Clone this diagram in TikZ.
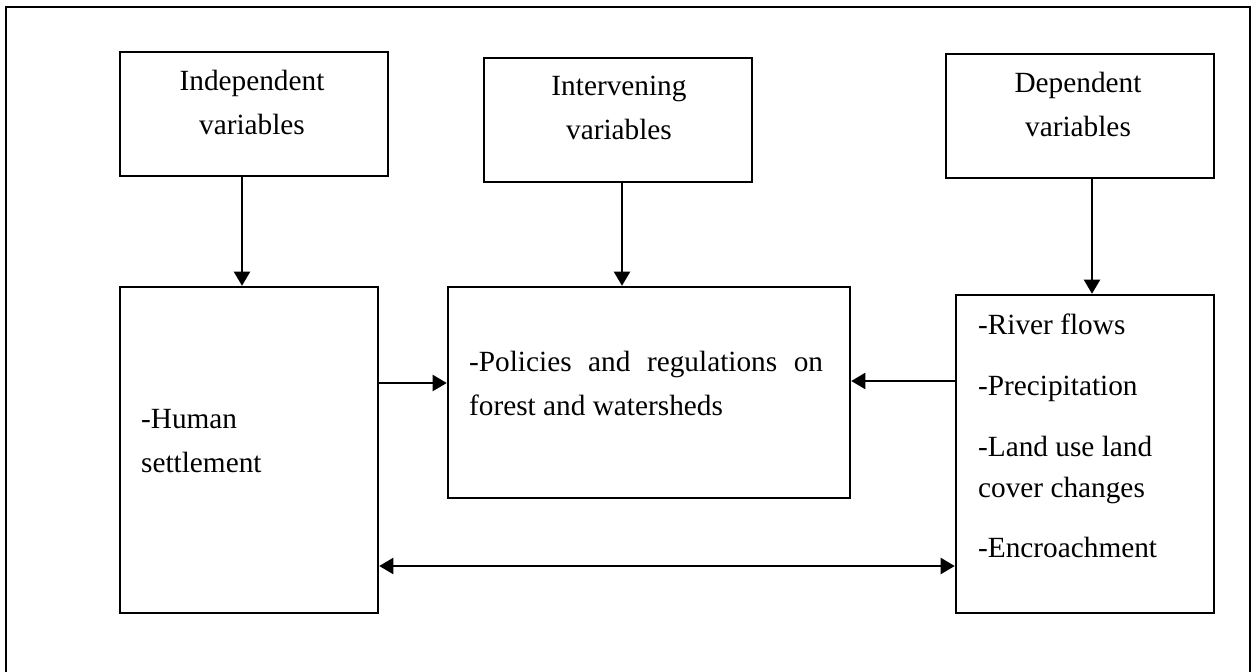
\documentclass[tikz,border=0pt]{standalone}
\usepackage{fontspec}
\setmainfont{Liberation Serif}
\usetikzlibrary{arrows.meta,fit}
\tikzset{every path/.style={line width=1pt}}
\tikzset{
  box/.style={draw, line width=1.1pt, inner sep=0pt},
  txt/.style={inner sep=0pt, font=\fontsize{13}{19.5}\selectfont},
  tip/.style={Triangle[length=0.22cm,width=0.25cm]},
  arr/.style={-{Triangle[length=0.22cm,width=0.25cm]}},
  dbl/.style={{Triangle[length=0.22cm,width=0.25cm]}-{Triangle[length=0.22cm,width=0.25cm]}},
}

\begin{document}
\begin{tikzpicture}[x=0.0156cm, y=-0.0156cm]
    \useasboundingbox (0,0) rectangle (1259,671);
    \draw (6,7) rectangle (1250,700);

    % variable headings
    \node[box, fit={(120,52) (388,176)}] (indep) {};
    \node[box, fit={(484,58) (752,182)}] (interv) {};
    \node[box, fit={(946,54) (1214,178)}] (dep) {};
    \node[txt, align=center, anchor=north] (indeptxt) at (252,69) {Independent\\variables};
    \node[txt, align=center, anchor=north] (intervtxt) at (619,75) {Intervening\\variables};
    \node[txt, align=center, anchor=north] (deptxt) at (1078,71) {Dependent\\variables};

    % contents
    \node[box, fit={(120,287) (378,613)}] (human) {};
    \node[box, fit={(448,287) (850,498)}] (policy) {};
    \node[box, fit={(956,295) (1214,613)}] (effects) {};
    \node[txt, align=left, anchor=north west] (humantxt) at (140,408) {-Human\\settlement};
    \node[txt, text width=5.52cm, align=justify, anchor=north west] (policytxt) at (468,350)
      {-Policies and regulations on forest and watersheds};
    \node[txt, align=left, anchor=north west, font=\fontsize{13}{18}\selectfont] (effectstxt) at (977,313)
      {-River flows\\[9pt] -Precipitation\\[9pt] -Land use land\\cover changes\\[9pt] -Encroachment};

    % arrows
    \coordinate (c1) at (242,0);
    \coordinate (c2) at (622,0);
    \coordinate (c3) at (1092,0);
    \coordinate (r1) at (0,383);
    \coordinate (r2) at (0,381);
    \coordinate (r3) at (0,566);
    \draw[arr] (indep.south -| c1) -- (human.north -| c1);
    \draw[arr] (interv.south -| c2) -- (policy.north -| c2);
    \draw[arr] (dep.south -| c3) -- (effects.north -| c3);
    \draw[arr] (human.east |- r1) -- (policy.west |- r1);
    \draw[arr] (effects.west |- r2) -- (policy.east |- r2);
    \draw[dbl] (human.east |- r3) -- (effects.west |- r3);
\end{tikzpicture}
\end{document}
